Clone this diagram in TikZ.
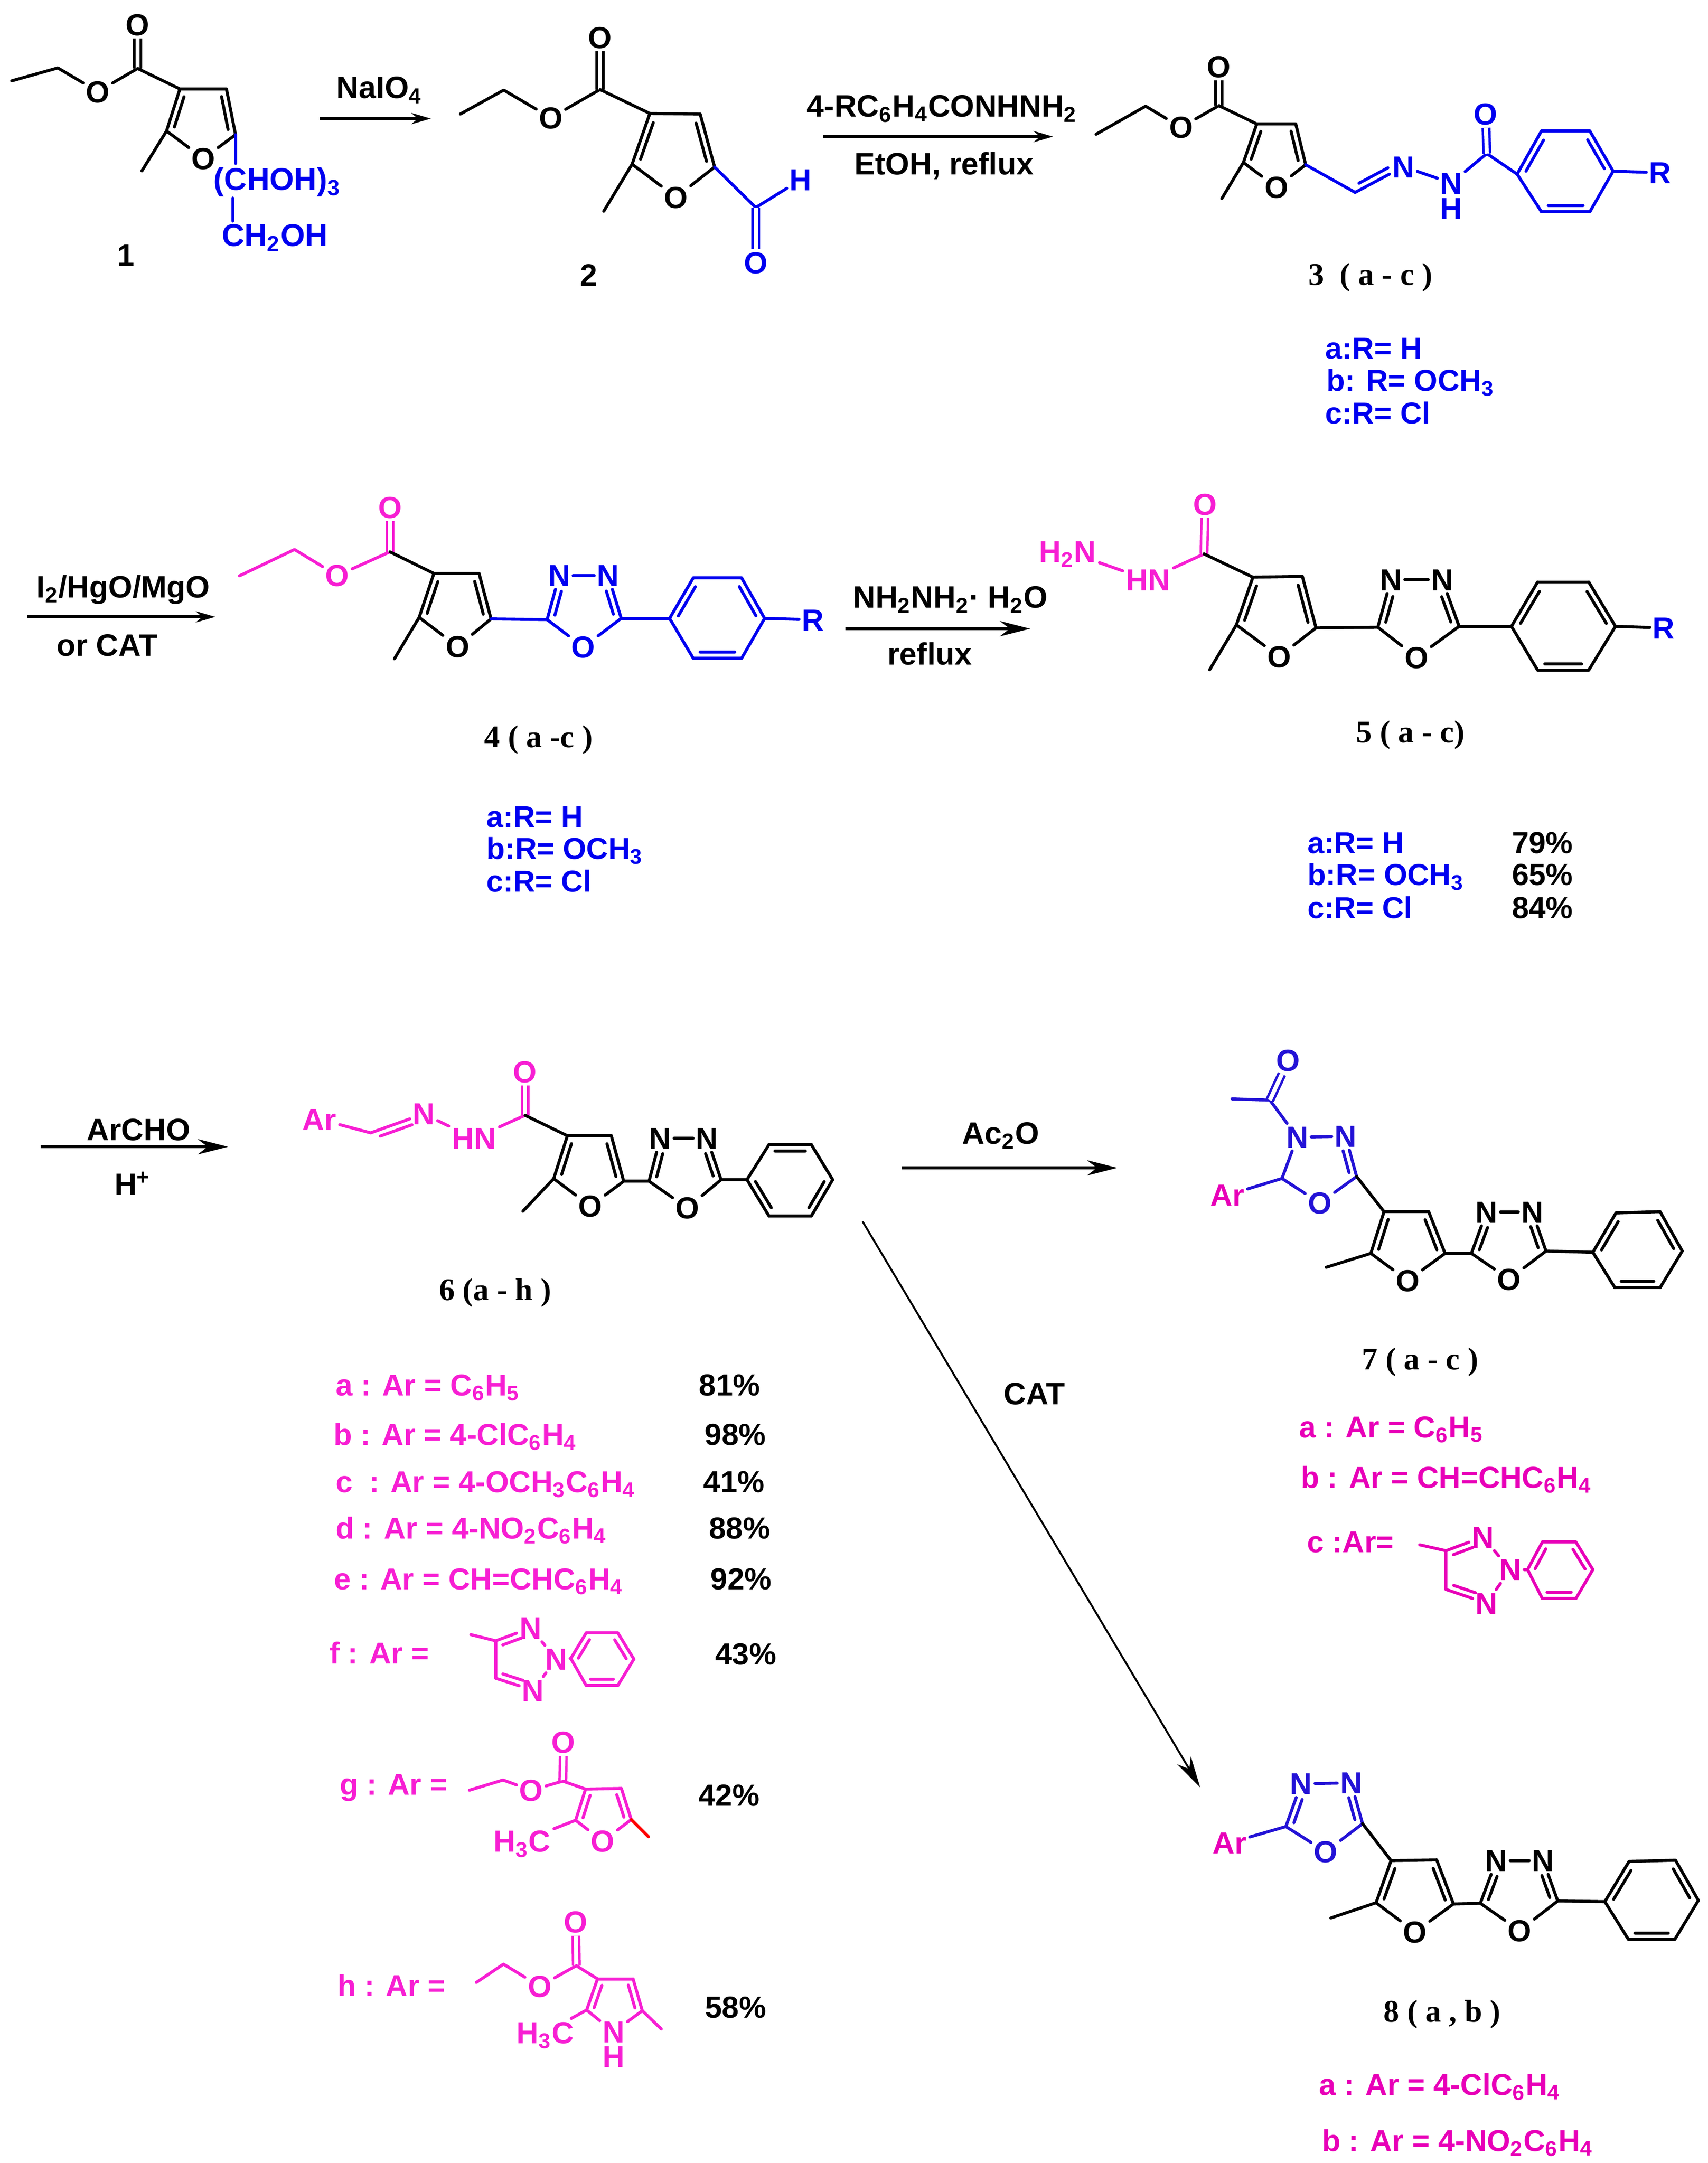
\documentclass[tikz,border=0pt]{standalone}
\usepackage{fontspec}
\setmainfont{Liberation Sans}
\newfontfamily\cpdfamily{Liberation Serif}
\usetikzlibrary{arrows.meta,calc}

\definecolor{cblue}{RGB}{0,0,240}
\definecolor{cpink}{RGB}{247,30,211}
\definecolor{cdeep}{RGB}{232,0,184}
\definecolor{cindigo}{RGB}{35,18,214}

\tikzset{
  bond/.style={line width=1.25pt, line join=round, line cap=round},
  dblbond/.style={line width=1pt, double, double distance=1.7pt},
  atom/.style={font=\bfseries\fontsize{12.6}{14}\selectfont, inner sep=1pt, text height=9pt, text depth=0pt},
  group/.style={font=\bfseries\fontsize{12.6}{14}\selectfont, inner sep=1.2pt, text height=9pt, text depth=0pt},
  txt/.style={font=\bfseries\fontsize{12.8}{15}\selectfont, anchor=west, inner sep=0pt, text height=9.2pt, text depth=0pt},
  txtc/.style={txt, anchor=center},
  listing/.style={txt, font=\bfseries\fontsize{12.5}{15}\selectfont},
  yield/.style={txt, font=\bfseries\fontsize{12.6}{15}\selectfont},
  cpd/.style={font=\cpdfamily\bfseries\fontsize{13}{15}\selectfont, inner sep=0pt, text height=8.6pt, text depth=0pt},
  rxn/.style={-{Stealth[length=8pt,width=4.6pt]}, line width=1.25pt},
  rxnbig/.style={-{Stealth[length=12.5pt,width=6.3pt]}, line width=1.25pt},
  rxnthin/.style={-{Stealth[length=13pt,width=6.5pt]}, line width=.8pt}
}

\newcommand{\subs}[1]{\textsubscript{#1}}

\newcommand{\dbl}[5][-2.6pt]{
  \draw[bond,#2] (#3) -- (#4);
  \draw[bond,#2] ($(#3)!.14!(#4)!#1!90:(#4)$) -- ($(#3)!#5!(#4)!#1!90:(#4)$);
}

\newcommand{\furan}[7]{
  \coordinate (#2c2) at #3;
  \coordinate (#2c3) at #4;
  \coordinate (#2c4) at #5;
  \coordinate (#2c5) at #6;
  \node[atom,#1] (#2o) at #7 {O};
  \dbl{#1}{#2c2}{#2c3}{.86}
  \dbl{#1}{#2c4}{#2c5}{.86}
  \draw[bond,#1] (#2c3) -- (#2c4);
  \draw[bond,#1] (#2c5) -- (#2o) -- (#2c2);
}

\newcommand{\oxadiazole}[7]{
  \coordinate (#2ca) at #3;
  \node[atom,#1] (#2na) at #4 {N};
  \node[atom,#1] (#2nb) at #5 {N};
  \coordinate (#2cb) at #6;
  \node[atom,#1] (#2ox) at #7 {O};
  \dbl{#1}{#2ca}{#2na}{.68}
  \dbl[2.6pt]{#1}{#2cb}{#2nb}{.68}
  \draw[bond,#1] (#2na) -- (#2nb);
  \draw[bond,#1] (#2cb) -- (#2ox) -- (#2ca);
}

\newcommand{\benzene}[8]{
  \coordinate (#2a) at #3;
  \coordinate (#2b) at #4;
  \coordinate (#2c) at #5;
  \coordinate (#2d) at #6;
  \coordinate (#2e) at #7;
  \coordinate (#2f) at #8;
  \dbl{#1}{#2a}{#2b}{.86}
  \dbl{#1}{#2c}{#2d}{.86}
  \dbl{#1}{#2e}{#2f}{.86}
  \draw[bond,#1] (#2b) -- (#2c);
  \draw[bond,#1] (#2d) -- (#2e);
  \draw[bond,#1] (#2f) -- (#2a);
}

\newcommand{\benzenealt}[8]{
  \coordinate (#2a) at #3;
  \coordinate (#2b) at #4;
  \coordinate (#2c) at #5;
  \coordinate (#2d) at #6;
  \coordinate (#2e) at #7;
  \coordinate (#2f) at #8;
  \dbl{#1}{#2b}{#2c}{.86}
  \dbl{#1}{#2d}{#2e}{.86}
  \dbl{#1}{#2f}{#2a}{.86}
  \draw[bond,#1] (#2a) -- (#2b);
  \draw[bond,#1] (#2c) -- (#2d);
  \draw[bond,#1] (#2e) -- (#2f);
}

\newcommand{\ester}[7]{
  \coordinate (#2me) at #3;
  \coordinate (#2ch) at #4;
  \node[atom,#1] (#2oe) at #5 {O};
  \coordinate (#2cc) at #6;
  \node[atom,#1] (#2ot) at #7 {O};
  \draw[bond,#1] (#2me) -- (#2ch) -- (#2oe) -- (#2cc);
  \draw[dblbond,#1] (#2cc) -- (#2ot);
}

\newcommand{\triazole}[7]{
  \coordinate (#2c4) at #3;
  \coordinate (#2c5) at #4;
  \node[atom,#1] (#2n1) at #5 {N};
  \node[atom,#1] (#2n2) at #6 {N};
  \node[atom,#1] (#2n3) at #7 {N};
  \dbl{#1}{#2c4}{#2n1}{.68}
  \dbl[2.6pt]{#1}{#2c5}{#2n3}{.68}
  \draw[bond,#1] (#2c4) -- (#2c5);
  \draw[bond,#1] (#2n1) -- (#2n2) -- (#2n3);
}

\begin{document}
\begin{tikzpicture}[x=0.02cm, y=-0.02cm]
\useasboundingbox (0, 0) rectangle (1240, 1570.6);

\ester{black}{s1}{(8.5, 58.7)}{(42, 49.3)}{(71, 66.5)}{(99.9, 49.7)}{(99.9, 17.8)}
\furan{black}{s1}{(120.9, 95.1)}{(130.6, 64.6)}{(164.4, 64.6)}{(171, 97.8)}{(147.7, 115.1)}
\coordinate (s1me2) at (103, 124.1);
\draw[bond] (s1cc) -- (s1c3);
\draw[bond] (s1c2) -- (s1me2);
\node[group, cblue, font=\bfseries\fontsize{13}{15}\selectfont] (s1sug) at (201.3, 130) {(CHOH)\subs{3}};
\node[group, cblue, font=\bfseries\fontsize{13}{15}\selectfont] (s1oh) at (199.5, 170.8) {CH\subs{2}OH};
\coordinate (s1sa) at (171, 118.6);
\coordinate (s1sb) at (169, 143.8);
\coordinate (s1sc) at (169, 160.5);
\draw[bond, cblue] (s1c5) -- (s1sa);
\draw[bond, cblue] (s1sb) -- (s1sc);
\node[txtc] (lab1) at (91.3, 185) {1};

\coordinate (r1a) at (232, 86.1);
\coordinate (r1b) at (312.8, 86.1);
\draw[rxn] (r1a) -- (r1b);
\node[txtc] (t1) at (275.4, 63.4) {NaIO\subs{4}};

\ester{black}{s2}{(334.2, 82.8)}{(365.7, 65.4)}{(399.9, 85.5)}{(435.6, 65)}{(435.6, 27.2)}
\furan{black}{s2}{(458.9, 119.2)}{(471.8, 82.4)}{(508.3, 82.8)}{(518.8, 121.3)}{(490.8, 143.2)}
\coordinate (s2me2) at (438.3, 153.4);
\coordinate (s2cho) at (548.7, 150.7);
\node[atom, cblue] (s2h) at (581.3, 130.5) {H};
\node[atom, cblue] (s2oa) at (548.7, 190.8) {O};
\draw[bond] (s2cc) -- (s2c3);
\draw[bond] (s2c2) -- (s2me2);
\draw[bond, cblue] (s2c5) -- (s2cho) -- (s2h);
\draw[dblbond, cblue] (s2cho) -- (s2oa);
\node[txtc] (lab2) at (427.5, 199.4) {2};

\coordinate (r2a) at (597.5, 99.2);
\coordinate (r2b) at (764.5, 99.2);
\draw[rxn] (r2a) -- (r2b);
\node[txtc] (t2) at (683.9, 76.7) {4-RC\subs{6}H\subs{4}CONHNH\subs{2}};
\node[txtc] (t3) at (685.4, 118.6) {EtOH, reflux};

\ester{black}{s3}{(795.7, 97.5)}{(831.7, 77.1)}{(857.4, 92.4)}{(884.9, 76.7)}{(884.9, 48.3)}
\furan{black}{s3}{(902.7, 118)}{(912.4, 90)}{(940.7, 90)}{(947.9, 119.6)}{(926.8, 136)}
\benzene{cblue}{s3p}{(1101.4, 126.4)}{(1119.1, 95.1)}{(1154.2, 95.1)}{(1171.1, 124.3)}{(1154.2, 153.8)}{(1119.1, 153.8)}
\coordinate (s3me2) at (887, 144.2);
\coordinate (s3im) at (983.8, 139.7);
\node[atom, cblue] (s3n1) at (1018.9, 121) {N};
\node[atom, cblue] (s3n2) at (1053.6, 132.9) {N};
\node[atom, cblue] (s3h) at (1053.6, 151.3) {H};
\coordinate (s3co) at (1079.4, 111.5);
\node[atom, cblue] (s3oa) at (1078.5, 82.8) {O};
\node[atom, cblue] (s3r) at (1205.3, 125.4) {R};
\draw[bond] (s3cc) -- (s3c3);
\draw[bond] (s3c2) -- (s3me2);
\draw[bond, cblue] (s3c5) -- (s3im);
\dbl[2.6pt]{cblue}{s3im}{s3n1}{.74}
\draw[bond, cblue] (s3n1) -- (s3n2) -- (s3co) -- (s3pa);
\draw[dblbond, cblue] (s3co) -- (s3oa);
\draw[bond, cblue] (s3pd) -- (s3r);
\node[cpd] (lab3) at (995, 199.5) {3\ \ ( a - c )};
\node[listing, cblue] (s3ra) at (961.9, 252.6) {a:R= H};
\node[listing, cblue] (s3rb) at (962.7, 276) {b: R= OCH\subs{3}};
\node[listing, cblue] (s3rc) at (961.9, 299.6) {c:R= Cl};

\coordinate (r3a) at (19.9, 447.9);
\coordinate (r3b) at (156.3, 447.9);
\draw[rxn] (r3a) -- (r3b);
\node[txtc] (t4) at (89.5, 425.8) {I\subs{2}/HgO/MgO};
\node[txtc] (t5) at (77.8, 468.3) {or CAT};

\ester{cpink}{s4}{(173.9, 418.1)}{(213.8, 399)}{(244.9, 417.9)}{(283.1, 400.7)}{(283.1, 368.3)}
\furan{black}{s4}{(304.3, 448.3)}{(315, 416.4)}{(347.8, 416.4)}{(356.5, 449.4)}{(332.2, 469.4)}
\oxadiazole{cblue}{s4z}{(397.2, 449.9)}{(406, 417.9)}{(441.5, 417.9)}{(451, 449)}{(423.5, 469.8)}
\benzene{cblue}{s4p}{(486.1, 449)}{(503.3, 419.6)}{(538.4, 419.6)}{(555.1, 449)}{(538.4, 478)}{(503.3, 478)}
\coordinate (s4me2) at (286.3, 478.4);
\node[atom, cblue] (s4r) at (590.2, 450) {R};
\draw[bond] (s4cc) -- (s4c3);
\draw[bond] (s4c2) -- (s4me2);
\draw[bond, cblue] (s4c5) -- (s4zca);
\draw[bond, cblue] (s4zcb) -- (s4pa);
\draw[bond, cblue] (s4pd) -- (s4r);
\node[cpd] (lab4) at (391, 535) {4 ( a -c )};
\node[listing, cblue] (s4ra) at (352.9, 592.6) {a:R= H};
\node[listing, cblue] (s4rb) at (352.9, 615.8) {b:R= OCH\subs{3}};
\node[listing, cblue] (s4rc) at (352.9, 639.4) {c:R= Cl};

\coordinate (r4a) at (613.8, 456.5);
\coordinate (r4b) at (747.9, 456.5);
\draw[rxnbig] (r4a) -- (r4b);
\node[txtc] (t6) at (690, 433.3) {NH\subs{2}NH\subs{2}· H\subs{2}O};
\node[txtc] (t7) at (675, 474.8) {reflux};

\furan{black}{s5}{(897.6, 453.7)}{(909.6, 419.1)}{(945.5, 418.5)}{(955.4, 455.9)}{(928.6, 476.7)}
\oxadiazole{black}{s5z}{(1000.3, 455.4)}{(1009.8, 420.9)}{(1047, 420.9)}{(1059.3, 454.8)}{(1028.4, 477.3)}
\benzene{black}{s5p}{(1097.3, 454.8)}{(1116.3, 422.6)}{(1153.4, 422.6)}{(1172.8, 454.8)}{(1153.4, 486.6)}{(1116.3, 486.6)}
\coordinate (s5me2) at (878.2, 486.3);
\coordinate (s5cc) at (874.1, 402.2);
\node[group, cpink] (s5nh2) at (775, 400.5) {H\subs{2}N};
\node[group, cpink] (s5nh) at (833.5, 420.9) {HN};
\node[atom, cpink] (s5ot) at (874.9, 366.1) {O};
\node[atom, cblue] (s5r) at (1207.8, 455.9) {R};
\draw[bond, cpink] (s5nh2) -- (s5nh) -- (s5cc);
\draw[dblbond, cpink] (s5cc) -- (s5ot);
\draw[bond] (s5cc) -- (s5c3);
\draw[bond] (s5c2) -- (s5me2);
\draw[bond] (s5c5) -- (s5zca);
\draw[bond] (s5zcb) -- (s5pa);
\draw[bond] (s5pd) -- (s5r);
\node[cpd] (lab5) at (1024, 531.5) {5 ( a - c)};
\node[listing, cblue] (s5ra) at (948.8, 611.5) {a:R= H};
\node[listing, cblue] (s5rb) at (948.8, 634.7) {b:R= OCH\subs{3}};
\node[listing, cblue] (s5rc) at (948.8, 658.8) {c:R= Cl};
\node[yield] (y5a) at (1097.3, 611.5) {79\%};
\node[yield] (y5b) at (1097.3, 634.7) {65\%};
\node[yield] (y5c) at (1097.3, 658.8) {84\%};

\coordinate (r5a) at (29.4, 832.7);
\coordinate (r5b) at (165.6, 832.7);
\draw[rxnbig] (r5a) -- (r5b);
\node[txtc] (t8) at (100.6, 819.9) {ArCHO};
\node[txtc] (t9) at (96.3, 859.8) {H\textsuperscript{+}};

\furan{black}{s6}{(402, 855.8)}{(411.9, 824.7)}{(443.8, 824.7)}{(452.8, 857.7)}{(428.6, 875.8)}
\oxadiazole{black}{s6z}{(471.2, 857.7)}{(479.3, 826.6)}{(513.3, 826.6)}{(523.5, 856.6)}{(499, 877.1)}
\benzenealt{black}{s6p}{(542.3, 856.6)}{(558.3, 831.1)}{(589, 831.1)}{(604.5, 856.6)}{(589, 883)}{(558.3, 883)}
\coordinate (s6me2) at (379.6, 879.5);
\coordinate (s6cc) at (381.2, 809.8);
\coordinate (s6im) at (269.1, 822.6);
\node[group, cpink] (s6ar) at (231.9, 812.7) {Ar};
\node[atom, cpink] (s6n1) at (307.6, 808.8) {N};
\node[group, cpink] (s6nh) at (344.2, 826.6) {HN};
\node[atom, cpink] (s6ot) at (381.2, 778.2) {O};
\draw[bond, cpink] (s6ar) -- (s6im);
\dbl{cpink}{s6im}{s6n1}{.74}
\draw[bond, cpink] (s6n1) -- (s6nh) -- (s6cc);
\draw[dblbond, cpink] (s6cc) -- (s6ot);
\draw[bond] (s6cc) -- (s6c3);
\draw[bond] (s6c2) -- (s6me2);
\draw[bond] (s6c5) -- (s6zca);
\draw[bond] (s6zcb) -- (s6pa);
\node[cpd] (lab6) at (359.5, 936.5) {6 (a - h )};

\node[listing, cpink] (s6ra) at (243.4, 1005.5) {a : Ar = C\subs{6}H\subs{5}};
\node[listing, cpink] (s6rb) at (242, 1041.4) {b : Ar = 4-ClC\subs{6}H\subs{4}};
\node[listing, cpink] (s6rc) at (243.4, 1075.7) {c\ \ : Ar = 4-OCH\subs{3}C\subs{6}H\subs{4}};
\node[listing, cpink] (s6rd) at (243.4, 1109.2) {d : Ar = 4-NO\subs{2}C\subs{6}H\subs{4}};
\node[listing, cpink] (s6re) at (242.1, 1146.2) {e : Ar = CH=CHC\subs{6}H\subs{4}};
\node[listing, cpink] (s6rf) at (238.9, 1200) {f : Ar =};
\node[listing, cpink] (s6rg) at (246.4, 1295.1) {g : Ar =};
\node[listing, cpink] (s6rh) at (244.8, 1441.4) {h : Ar =};
\node[yield] (y6a) at (507.2, 1005.5) {81\%};
\node[yield] (y6b) at (511.3, 1041.4) {98\%};
\node[yield] (y6c) at (510.4, 1075.7) {41\%};
\node[yield] (y6d) at (514.5, 1109.2) {88\%};
\node[yield] (y6e) at (515.5, 1146.2) {92\%};
\node[yield] (y6f) at (518.9, 1200.7) {43\%};
\node[yield] (y6g) at (506.7, 1303.1) {42\%};
\node[yield] (y6h) at (511.5, 1457.3) {58\%};

\triazole{cpink}{f}{(359.9, 1191.4)}{(359.9, 1218.6)}{(385.2, 1182.1)}{(403.8, 1204.7)}{(387, 1227.3)}
\benzene{cpink}{fp}{(414.4, 1204.2)}{(425.6, 1185.6)}{(448.5, 1185.6)}{(460.2, 1204.7)}{(448.5, 1223.9)}{(425.6, 1223.9)}
\coordinate (fme) at (341.8, 1186.9);
\draw[bond, cpink] (fme) -- (fc4);
\draw[bond, cpink] (fn2) -- (fpa);

\ester{cpink}{g}{(340.8, 1299.9)}{(365.2, 1292.5)}{(385.7, 1299.9)}{(408.6, 1293.3)}{(409.1, 1265.1)}
\furan{cpink}{g}{(417.9, 1321.7)}{(425.1, 1299.1)}{(451.1, 1298.6)}{(458.3, 1321.2)}{(437.6, 1336.9)}
\node[group, cpink] (gme2) at (379, 1336.9) {H\subs{3}C};
\coordinate (gme5) at (470.8, 1333.7);
\draw[bond, cpink] (gcc) -- (gc3);
\draw[bond, cpink] (gc2) -- (gme2);
\draw[bond, red] (gc5) -- (gme5);

\ester{cpink}{h}{(345.8, 1439.5)}{(365.5, 1426.2)}{(391.8, 1442.2)}{(418.4, 1427.3)}{(417.9, 1395.6)}
\coordinate (hc2) at (425.9, 1459.5);
\coordinate (hc3) at (433.8, 1436.9);
\coordinate (hc4) at (459.6, 1436.9);
\coordinate (hc5) at (466.3, 1460);
\coordinate (hme5) at (480.1, 1473.3);
\node[atom, cpink] (hn) at (445.5, 1475.4) {N};
\node[atom, cpink] (hh) at (445.5, 1493.2) {H};
\node[group, cpink] (hme2) at (395.9, 1476) {H\subs{3}C};
\dbl{cpink}{hc2}{hc3}{.86}
\dbl{cpink}{hc4}{hc5}{.86}
\draw[bond, cpink] (hc3) -- (hc4);
\draw[bond, cpink] (hc5) -- (hn) -- (hc2);
\draw[bond, cpink] (hcc) -- (hc3);
\draw[bond, cpink] (hc2) -- (hme2);
\draw[bond, cpink] (hc5) -- (hme5);

\coordinate (r6a) at (654.7, 848);
\coordinate (r6b) at (811.2, 848);
\draw[rxnbig] (r6a) -- (r6b);
\node[txtc] (t10) at (726.5, 822.5) {Ac\subs{2}O};

\coordinate (s7me) at (894.4, 797.9);
\coordinate (s7ac) at (921.9, 798.8);
\node[atom, cindigo] (s7oa) at (935.3, 769.9) {O};
\node[atom, cindigo] (s7na) at (941.8, 825.7) {N};
\node[atom, cindigo] (s7nb) at (976.9, 825.1) {N};
\coordinate (s7cb) at (984.9, 854.3);
\node[atom, cindigo] (s7ob) at (958.2, 873.5) {O};
\coordinate (s7ca) at (930.7, 855.7);
\node[group, cdeep] (s7ar) at (891, 867.8) {Ar};
\draw[bond, cindigo] (s7me) -- (s7ac) -- (s7na) -- (s7nb);
\draw[dblbond, cindigo] (s7ac) -- (s7oa);
\dbl[2.6pt]{cindigo}{s7cb}{s7nb}{.68}
\draw[bond, cindigo] (s7cb) -- (s7ob) -- (s7ca) -- (s7na);
\draw[bond, cindigo] (s7ca) -- (s7ar);
\furan{black}{s7}{(995.2, 910.1)}{(1004.8, 879.8)}{(1037.2, 879.8)}{(1049.1, 910.1)}{(1022, 929.9)}
\oxadiazole{black}{s7z}{(1068.2, 910.1)}{(1079.2, 880.1)}{(1112.4, 880.1)}{(1122.4, 908.4)}{(1095.6, 928.8)}
\benzene{black}{s7p}{(1156.4, 909.3)}{(1173.2, 880.7)}{(1205.2, 879.8)}{(1221.3, 908.4)}{(1205.2, 935)}{(1172.4, 935)}
\coordinate (s7me2) at (962.8, 920.2);
\draw[bond] (s7cb) -- (s7c3);
\draw[bond] (s7c2) -- (s7me2);
\draw[bond] (s7c5) -- (s7zca);
\draw[bond] (s7zcb) -- (s7pa);
\node[cpd] (lab7) at (1031, 987) {7 ( a - c )};
\node[listing, cdeep] (s7ra) at (942.9, 1035.8) {a : Ar = C\subs{6}H\subs{5}};
\node[listing, cdeep] (s7rb) at (944, 1072.5) {b : Ar = CH=CHC\subs{6}H\subs{4}};
\node[listing, cdeep] (s7rc) at (948.7, 1119.1) {c :Ar=};

\triazole{cdeep}{c}{(1049.8, 1126)}{(1049.8, 1154.1)}{(1076.5, 1116)}{(1096.4, 1139.7)}{(1079.2, 1164.1)}
\benzene{cdeep}{cp}{(1109, 1139.7)}{(1119.7, 1119.7)}{(1144.1, 1119.7)}{(1156.4, 1139.7)}{(1144.1, 1160.7)}{(1119.7, 1160.7)}
\coordinate (cme) at (1030.7, 1121.7);
\draw[bond, cdeep] (cme) -- (cc4);
\draw[bond, cdeep] (cn2) -- (cpa);

\coordinate (r7a) at (626.2, 886.9);
\coordinate (r7b) at (871.3, 1297.8);
\draw[rxnthin] (r7a) -- (r7b);
\node[txtc] (t11) at (751, 1011.8) {CAT};

\node[group, cdeep] (s8ar) at (892.6, 1338.1) {Ar};
\oxadiazole{cindigo}{s8y}{(933.5, 1326.3)}{(944.6, 1295.2)}{(980.9, 1294.6)}{(989.2, 1324.2)}{(962.5, 1344.5)}
\furan{black}{s8}{(999, 1381.6)}{(1009.9, 1351)}{(1043, 1350.5)}{(1055.2, 1382.5)}{(1027.3, 1402.8)}
\oxadiazole{black}{s8z}{(1074.7, 1382)}{(1086.3, 1351)}{(1120.3, 1351)}{(1130.9, 1380.3)}{(1103.2, 1401.8)}
\benzene{black}{s8p}{(1165.1, 1380.8)}{(1182.7, 1351.6)}{(1216.4, 1350.7)}{(1233, 1379.9)}{(1215.9, 1408.2)}{(1182.2, 1408.2)}
\coordinate (s8me2) at (966.1, 1392.7);
\draw[bond, cindigo] (s8ar) -- (s8yca);
\draw[bond] (s8ycb) -- (s8c3);
\draw[bond] (s8c2) -- (s8me2);
\draw[bond] (s8c5) -- (s8zca);
\draw[bond] (s8zcb) -- (s8pa);
\node[cpd] (lab8) at (1047, 1460.5) {8 ( a , b )};
\node[listing, cdeep] (s8ra) at (957.3, 1513.2) {a : Ar = 4-ClC\subs{6}H\subs{4}};
\node[listing, cdeep] (s8rb) at (959.4, 1553.9) {b : Ar = 4-NO\subs{2}C\subs{6}H\subs{4}};
\end{tikzpicture}
\end{document}
